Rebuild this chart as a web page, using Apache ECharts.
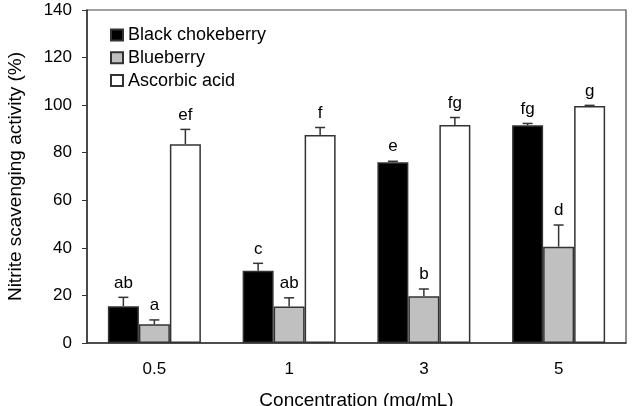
<!DOCTYPE html>
<html>
<head>
<meta charset="utf-8">
<script src="https://cdn.jsdelivr.net/npm/echarts@6/dist/echarts.min.js"></script>
<style>
html,body{margin:0;padding:0;background:#fff;}
#chart{width:632px;height:406px;}
</style>
</head>
<body>
<div id="chart"></div>
<script>
const categories = ['0.5', '1', '3', '5'];
const seriesNames = ['Black chokeberry', 'Blueberry', 'Ascorbic acid'];
const blackValues = [15.5, 30.4, 76.0, 91.5];
const blueValues = [7.9, 15.3, 19.7, 40.5];
const ascorbicValues = [83.6, 87.5, 91.6, 99.6];
const blackErrors = [3.7, 3.1, 0.4, 0.8];
const blueErrors = [1.8, 3.7, 3.0, 9.1];
const ascorbicErrors = [6.2, 3.1, 3.2, 0.3];
const blackLetters = ['ab', 'c', 'e', 'fg'];
const blueLetters = ['a', 'ab', 'b', 'd'];
const ascorbicLetters = ['ef', 'f', 'fg', 'g'];
const yMin = 0, yMax = 140, yStep = 20;

const BAR_W = 31;
const FONT = '"Liberation Sans", Arial, sans-serif';
const allValues = [blackValues, blueValues, ascorbicValues];
const allErrors = [blackErrors, blueErrors, ascorbicErrors];
const allLetters = [blackLetters, blueLetters, ascorbicLetters];
const fills = ['#000000', '#c0c0c0', '#ffffff'];

const errData = [];
for (let s = 0; s < 3; s++) {
  for (let i = 0; i < categories.length; i++) {
    errData.push([i, allValues[s][i], allErrors[s][i], s, allLetters[s][i]]);
  }
}

const chart = echarts.init(document.getElementById('chart'), null, {renderer: 'canvas'});
const barSeries = seriesNames.map((name, s) => ({
  name: name,
  type: 'bar',
  data: allValues[s],
  barWidth: BAR_W,
  barGap: '0%',
  itemStyle: {color: fills[s], borderColor: '#333', borderWidth: 1.5},
  emphasis: {disabled: true}
}));

chart.setOption({
  animation: false,
  textStyle: {fontFamily: FONT},
  grid: {left: 87, right: 6, top: 10, bottom: 63, show: true, borderColor: '#444', borderWidth: 1.2, containLabel: false, outerBoundsMode: 'none'},
  legend: {
    orient: 'vertical', left: 110, top: 26, padding: 0,
    itemWidth: 12, itemHeight: 11, itemGap: 4.8,
    data: seriesNames,
    icon: 'rect',
    textStyle: {fontFamily: FONT, fontSize: 18, color: '#000', padding: [0, 0, 0, 0]}
  },
  xAxis: {
    type: 'category', data: categories,
    name: 'Concentration (mg/mL)', nameLocation: 'middle', nameGap: 48,
    nameTextStyle: {fontFamily: FONT, fontSize: 19, color: '#000'},
    axisLine: {lineStyle: {color: '#333', width: 1.5}},
    axisTick: {inside: true, length: 4, lineStyle: {color: '#333'}},
    axisLabel: {fontFamily: FONT, fontSize: 17, color: '#000', margin: 18}
  },
  yAxis: {
    type: 'value', min: yMin, max: yMax, interval: yStep,
    name: 'Nitrite scavenging activity (%)', nameLocation: 'middle', nameGap: 62,
    nameTextStyle: {fontFamily: FONT, fontSize: 19, color: '#000'},
    axisLine: {show: true, lineStyle: {color: '#333', width: 1.5}},
    axisTick: {show: true, length: 5, lineStyle: {color: '#333'}},
    splitLine: {show: false},
    axisLabel: {fontFamily: FONT, fontSize: 17, color: '#000', margin: 15}
  },
  series: barSeries.concat([{
    type: 'custom',
    z: 5,
    data: errData,
    encode: {x: 0, y: 1},
    renderItem: function (params, api) {
      const idx = api.value(0), val = api.value(1), err = api.value(2), s = api.value(3);
      const letter = errData[params.dataIndex][4];
      const base = api.coord([idx, val]);
      const top = api.coord([idx, val + err]);
      const x = base[0] + (s - 1) * BAR_W;
      const st = {stroke: '#333', lineWidth: 1.5};
      return {
        type: 'group',
        children: [
          {type: 'line', shape: {x1: x, y1: base[1], x2: x, y2: top[1]}, style: st},
          {type: 'line', shape: {x1: x - 5, y1: top[1], x2: x + 5, y2: top[1]}, style: st},
          {type: 'text', x: x, y: top[1] - 6, style: {text: letter, fill: '#000', font: '17px ' + FONT, align: 'center', verticalAlign: 'bottom'}}
        ]
      };
    }
  }])
});
</script>
</body>
</html>
